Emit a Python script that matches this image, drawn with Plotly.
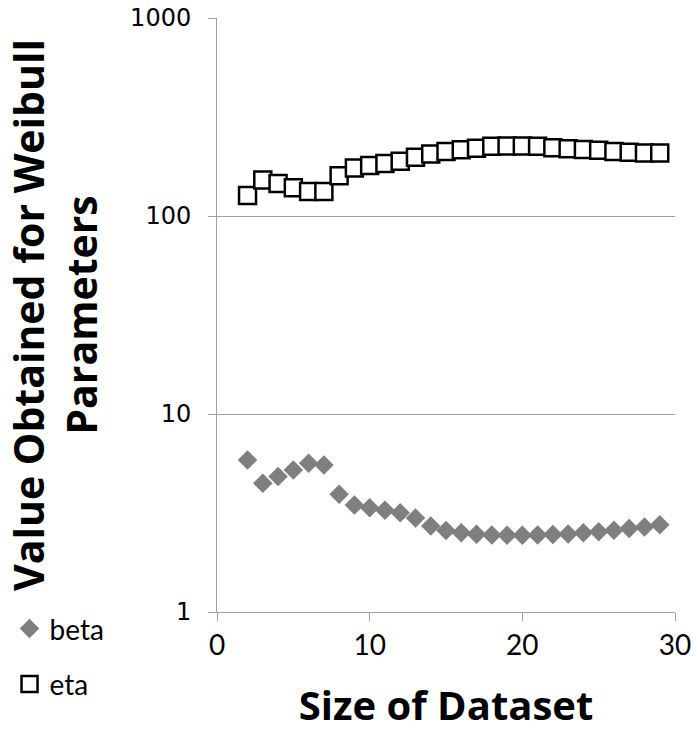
import plotly.graph_objects as go

size = list(range(2, 30))
beta = [5.86, 4.47, 4.83, 5.21, 5.64, 5.52, 3.93, 3.47, 3.36, 3.27, 3.17, 2.98, 2.72,
        2.58, 2.51, 2.47, 2.45, 2.44, 2.44, 2.45, 2.46, 2.48, 2.51, 2.54, 2.59, 2.64, 2.69, 2.76]
eta = [127, 152, 146, 139, 133, 133, 160, 175, 180, 184, 189, 198, 206, 212, 216, 220,
       225, 226, 226, 225, 221, 219, 217, 215, 212, 210, 208, 208]

x_ticks = [0, 10, 20, 30]
y_ticks = [1, 10, 100, 1000]
y_ticktext = ["1", "10", "100", "1000"]

fig = go.Figure()
fig.add_trace(go.Scatter(
    x=size, y=beta, name="beta", mode="markers",
    marker=dict(symbol="diamond", size=15, color="#7f7f7f", line=dict(width=0)),
    legendgroup="a"))
fig.add_trace(go.Scatter(
    x=size, y=eta, name="eta", mode="markers",
    marker=dict(symbol="square", size=17, color="white", line=dict(width=2.5, color="black")),
    legendgroup="b"))

fig.update_layout(
    width=697, height=733,
    margin=dict(l=217, r=22, t=18, b=121, autoexpand=False),
    paper_bgcolor="white", plot_bgcolor="white",
    font=dict(family="Lato", color="black"),
    legend=dict(x=-0.453, y=0.0136, xanchor="left", yanchor="top",
                font=dict(family="Lato", size=28, color="black"),
                tracegroupgap=16, bgcolor="rgba(0,0,0,0)"),
    showlegend=True,
)
fig.update_xaxes(
    range=[0, 30], tickvals=x_ticks, ticks="outside", ticklen=8, tickcolor="#a0a0a0",
    showline=True, linecolor="#a0a0a0", linewidth=1, showgrid=False, zeroline=False,
    automargin=True, ticklabeloverflow="allow",
    tickfont=dict(family="Lato", size=28, color="black"),
    title=dict(text="<b>Size of Dataset</b>", font=dict(family="Open Sans", size=40, color="black"), standoff=32),
)
fig.update_yaxes(
    type="log", range=[0, 3.0003], tickvals=y_ticks, ticktext=y_ticktext,
    ticks="outside", ticklen=8, tickcolor="#a0a0a0", ticklabelstandoff=12,
    showline=True, linecolor="#a0a0a0", linewidth=1, automargin=True, ticklabeloverflow="allow",
    showgrid=True, gridcolor="#a0a0a0", gridwidth=1, zeroline=False,
    tickfont=dict(family="DejaVu Sans", size=24, color="black"),
    title=dict(text="<b>Value Obtained for Weibull<br>Parameters</b>",
               font=dict(family="Open Sans", size=41, color="black"), standoff=21),
)

fig.write_html("out.html", config={"displayModeBar": False},
               post_script="document.body.style.margin='0';document.body.style.padding='0';")
